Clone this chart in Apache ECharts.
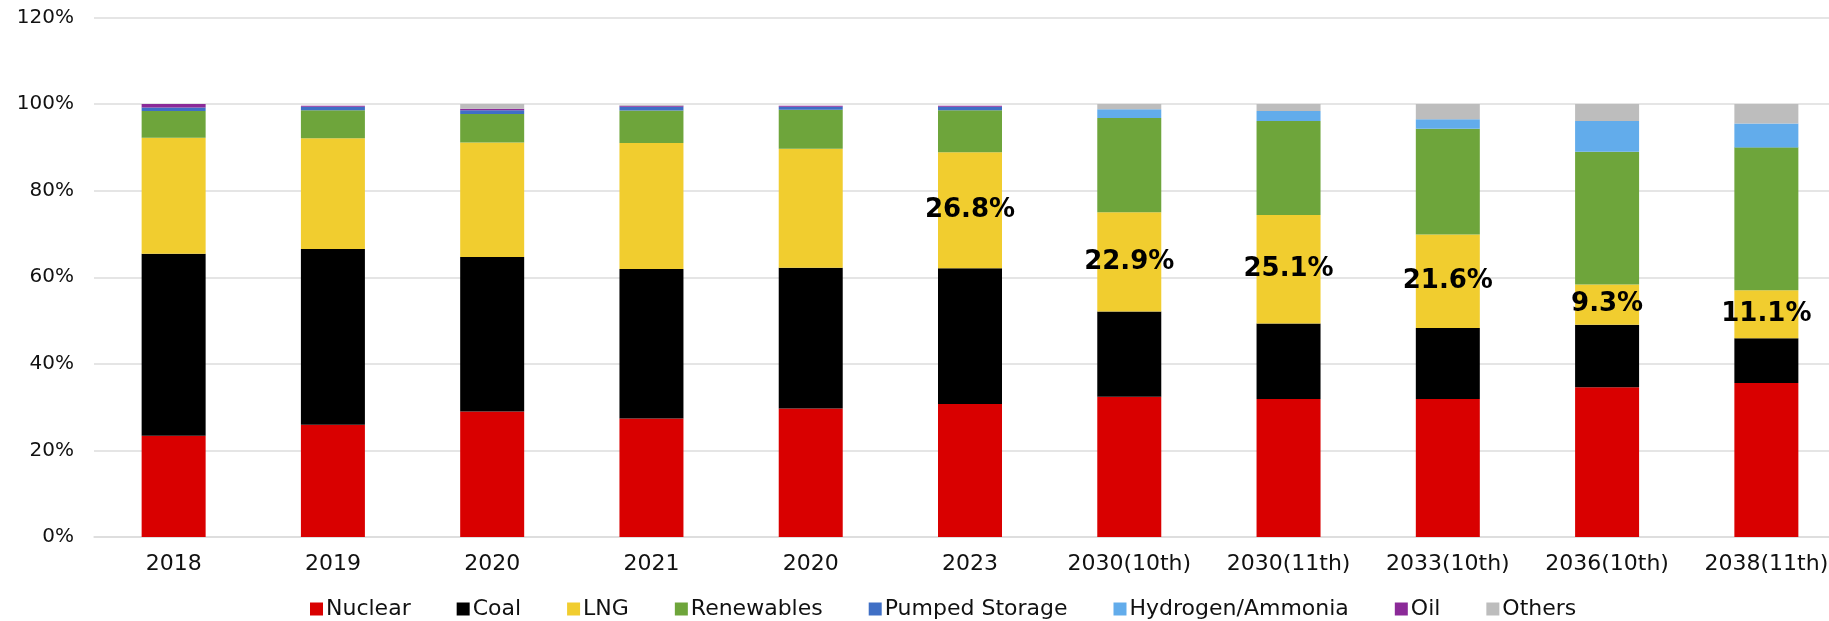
<!DOCTYPE html>
<html>
<head>
<meta charset="utf-8">
<title>Power generation mix</title>
<script src="https://cdn.jsdelivr.net/npm/echarts@6/dist/echarts.min.js"></script>
<style>
  html, body { margin: 0; padding: 0; background: #ffffff; overflow: hidden; }
  /* plot area runs slightly past the right edge of the window */
  #chart { width: 1846px; height: 621px; }
</style>
</head>
<body>
<div id="chart"></div>
<script>
// Share of generation by source (%), actuals and basic-plan projections
const categories = ['2018', '2019', '2020', '2021', '2020', '2023',
  '2030(10th)', '2030(11th)', '2033(10th)', '2036(10th)', '2038(11th)'];

const nuclear     = [23.4, 25.9, 29.0, 27.4, 29.7, 30.7, 32.4, 31.9, 31.9, 34.6, 35.6];
const coal        = [42.0, 40.6, 35.7, 34.5, 32.5, 31.4, 19.7, 17.4, 16.4, 14.4, 10.3];
const lng         = [26.8, 25.6, 26.4, 29.1, 27.5, 26.8, 22.9, 25.1, 21.6, 9.3, 11.1];
const renewables  = [6.2, 6.5, 6.6, 7.5, 9.0, 9.7, 21.8, 21.7, 24.4, 30.7, 33.0];
const pumped      = [0.8, 0.8, 0.9, 0.9, 0.7, 0.8, 0, 0, 0, 0, 0];
const hydrogen    = [0, 0, 0, 0, 0, 0, 2.0, 2.3, 2.2, 7.1, 5.5];
const oil         = [0.8, 0.2, 0.3, 0.2, 0.2, 0.2, 0, 0, 0, 0, 0];
const others      = [0, 0, 1.1, 0.2, 0, 0, 1.2, 1.6, 3.5, 3.9, 4.5];

// LNG shares called out on the chart (by category index)
const lngCallouts = [5, 6, 7, 8, 9, 10];

const yTicks = [0, 20, 40, 60, 80, 100, 120];

const FONT = '"DejaVu Sans", "Noto Sans", sans-serif';

const sources = [
  { name: 'Nuclear',           data: nuclear,    color: '#D90000' },
  { name: 'Coal',              data: coal,       color: '#000000' },
  { name: 'LNG',               data: lng,        color: '#F1CD2F' },
  { name: 'Renewables',        data: renewables, color: '#6EA53B' },
  { name: 'Pumped Storage',    data: pumped,     color: '#3F6FC5' },
  { name: 'Hydrogen/Ammonia',  data: hydrogen,   color: '#62ACEB' },
  { name: 'Oil',               data: oil,        color: '#8B2A98' },
  { name: 'Others',            data: others,     color: '#BDBDBD' }
];

const series = sources.map(s => {
  const item = {
    name: s.name,
    type: 'bar',
    stack: 'mix',
    barWidth: 64,
    itemStyle: { color: s.color },
    emphasis: { disabled: true },
    data: s.data
  };
  if (s.name === 'LNG') {
    item.label = {
      show: true,
      position: 'inside',
      color: '#000000',
      fontFamily: FONT,
      fontWeight: 'bold',
      fontSize: 26,
      formatter: p => lngCallouts.includes(p.dataIndex) ? p.value.toFixed(1) + '%' : ''
    };
  }
  return item;
});

const chart = echarts.init(document.getElementById('chart'));
chart.setOption({
  animation: false,
  backgroundColor: '#ffffff',
  grid: { left: 94, right: 0, top: 17.5, bottom: 84, containLabel: false },
  legend: {
    left: 305,
    top: 593,
    itemWidth: 13,
    itemHeight: 13,
    itemGap: 46,
    icon: 'rect',
    textStyle: { fontFamily: FONT, fontSize: 22, color: '#111111', padding: [0, 0, 0, -2] },
    data: sources.map(s => s.name)
  },
  xAxis: {
    type: 'category',
    data: categories,
    axisLine: { show: true, lineStyle: { color: '#dcdcdc', width: 1.5 } },
    axisTick: { show: false },
    axisLabel: { fontFamily: FONT, fontSize: 22, color: '#111111', margin: 16, interval: 0 }
  },
  yAxis: {
    type: 'value',
    min: yTicks[0],
    max: yTicks[yTicks.length - 1],
    interval: yTicks[1] - yTicks[0],
    axisLine: { show: false },
    axisTick: { show: false },
    splitLine: { lineStyle: { color: '#dcdcdc', width: 1.5 } },
    axisLabel: { fontFamily: FONT, fontSize: 20, color: '#111111', margin: 20, formatter: v => v + '%' }
  },
  series: series
});
</script>
</body>
</html>
